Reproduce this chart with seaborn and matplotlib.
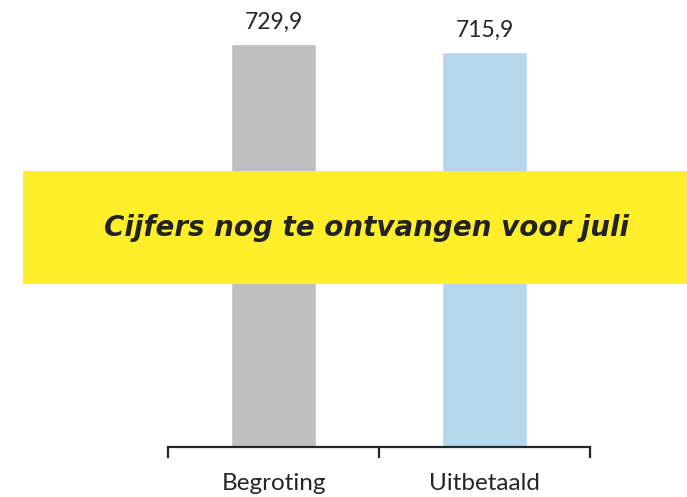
import pandas as pd
import matplotlib.pyplot as plt
import seaborn as sns
from matplotlib.patches import Rectangle

categories = ['Begroting', 'Uitbetaald']
values = [729.9, 715.9]
value_labels = ['729,9', '715,9']
bar_colors = ['#BFBFBF', '#B4D7EE']
banner_text = 'Cijfers nog te ontvangen voor juli'


def main():
    sns.set_theme(style="white")
    plt.rcParams['font.family'] = ['Lato', 'DejaVu Sans']

    df = pd.DataFrame({'categorie': categories, 'waarde': values})

    fig = plt.figure(figsize=(6.87, 4.97), dpi=100)
    ax = fig.add_axes([168 / 687, 50 / 497, 422 / 687, 447 / 497])

    sns.barplot(data=df, x='categorie', y='waarde', hue='categorie',
                palette=bar_colors, width=0.40, legend=False, ax=ax,
                saturation=1)

    ax.set_xlim(-0.5, 1.5)
    ax.set_ylim(0, 809.6)
    ax.set_xlabel('')
    ax.set_ylabel('')
    ax.set_yticks([])

    # value labels above bars
    for i, (v, lab) in enumerate(zip(values, value_labels)):
        ax.annotate(lab, (i, v), xytext=(0, 8), textcoords='offset points',
                    ha='center', va='bottom', fontsize=16.5, color='#262626')

    # axis styling: only bottom line, tick marks between categories
    for side in ['left', 'right', 'top']:
        ax.spines[side].set_visible(False)
    ax.spines['bottom'].set_color('#262626')
    ax.spines['bottom'].set_linewidth(1.6)
    ax.set_xticks([0, 1])
    ax.set_xticklabels(categories, fontsize=17.5, color='#262626')
    ax.tick_params(axis='x', which='major', length=0, pad=19)
    ax.set_xticks([-0.5, 0.5, 1.5], minor=True)
    ax.tick_params(axis='x', which='minor', bottom=True, length=8,
                   width=1.6, color='#262626', direction='out')

    # yellow banner
    fig.patches.append(Rectangle((23 / 687, 1 - 284 / 497), 664 / 687, 113 / 497,
                                 transform=fig.transFigure, facecolor='#FFEF2A',
                                 edgecolor='none', zorder=5))
    fig.text(367 / 687, 1 - 228 / 497, banner_text, ha='center', va='center',
             fontsize=20, fontweight='bold', fontstyle='italic',
             family=['DejaVu Sans'], color='#222222', zorder=6)

    fig.savefig('out.png', dpi=100)
    plt.close(fig)


if __name__ == '__main__':
    main()
